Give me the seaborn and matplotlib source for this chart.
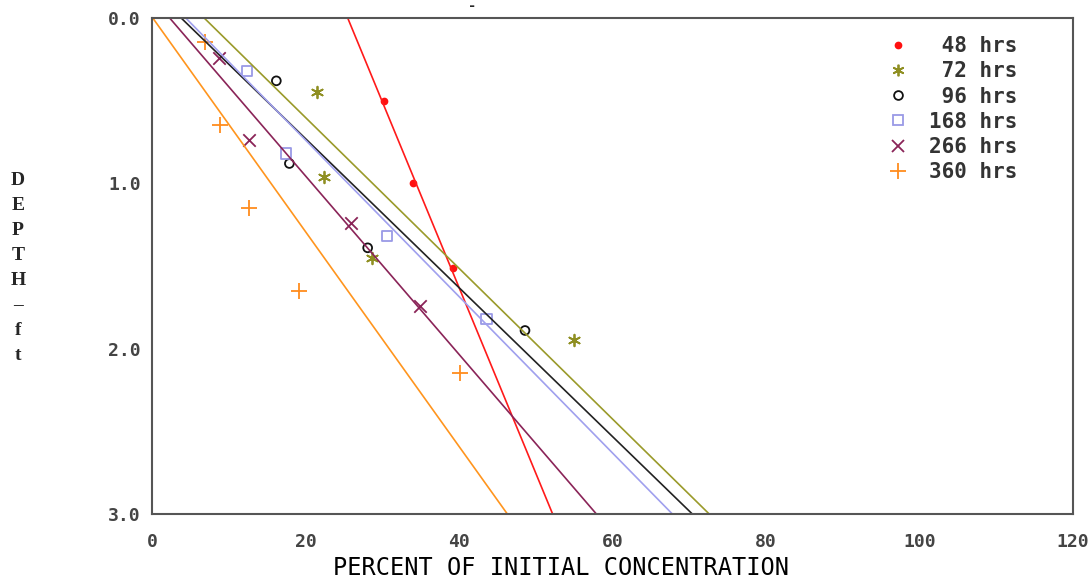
import matplotlib
matplotlib.use("Agg")
import matplotlib.pyplot as plt
import seaborn as sns
import pandas as pd
import numpy as np

# ---- data ----
series = ["48 hrs", "72 hrs", "96 hrs", "168 hrs", "266 hrs", "360 hrs"]

pts_48_x = [30.2, 34.0, 39.2]
pts_48_y = [0.50, 1.00, 1.51]
pts_72_x = [21.5, 22.4, 28.7, 55.0]
pts_72_y = [0.45, 0.96, 1.45, 1.95]
pts_96_x = [16.2, 17.9, 28.1, 48.6]
pts_96_y = [0.38, 0.88, 1.39, 1.89]
pts_168_x = [12.4, 17.5, 30.6, 43.6]
pts_168_y = [0.32, 0.82, 1.32, 1.82]
pts_266_x = [8.7, 12.6, 25.9, 34.9]
pts_266_y = [0.24, 0.74, 1.24, 1.74]
pts_360_x = [6.9, 8.9, 12.6, 19.2, 40.1]
pts_360_y = [0.145, 0.65, 1.15, 1.65, 2.15]

# fitted-line concentration at depth 0 ft and at depth 3 ft
fit_depths = [0.0, 3.0]
fit_top = [25.5, 6.8, 3.8, 4.4, 2.3, 0.1]
fit_bottom = [52.2, 72.6, 70.4, 67.8, 57.9, 46.3]

colors = ["#ff1010", "#8f8f22", "#111111", "#9a9ae6", "#8a2458", "#ff8c1e"]
line_colors = ["#ff1a1a", "#9a9a2a", "#222222", "#a0a0ee", "#8a2458", "#ff951e"]

pts_x = [pts_48_x, pts_72_x, pts_96_x, pts_168_x, pts_266_x, pts_360_x]
pts_y = [pts_48_y, pts_72_y, pts_96_y, pts_168_y, pts_266_y, pts_360_y]

rows = []
for s, xs, ys in zip(series, pts_x, pts_y):
    for x, y in zip(xs, ys):
        rows.append({"series": s, "pct": x, "depth": y})
pts = pd.DataFrame(rows)

lrows = []
for s, a, b in zip(series, fit_top, fit_bottom):
    lrows.append({"series": s, "pct": a, "depth": fit_depths[0]})
    lrows.append({"series": s, "pct": b, "depth": fit_depths[1]})
lines = pd.DataFrame(lrows)

sns.set_style("white")
plt.rcParams["font.family"] = ["DejaVu Sans Mono", "DejaVu Sans"]

fig = plt.figure(figsize=(10.92, 5.82), dpi=100)
ax = fig.add_axes([152 / 1092, 68 / 582, (1073 - 152) / 1092, (514 - 18) / 582])

sns.lineplot(data=lines, x="pct", y="depth", hue="series", hue_order=series,
             palette=dict(zip(series, line_colors)), sort=False, estimator=None,
             linewidth=1.2, legend=False, ax=ax)

markers = {"48 hrs": "o", "72 hrs": (6, 2, 0), "96 hrs": "o",
           "168 hrs": "s", "266 hrs": "x", "360 hrs": "+"}
sizes = {"48 hrs": 18, "72 hrs": 70, "96 hrs": 40, "168 hrs": 55,
         "266 hrs": 80, "360 hrs": 130}
handles = []
for s, c in zip(series, colors):
    d = pts[pts["series"] == s]
    m = markers[s]
    if s in ("96 hrs", "168 hrs"):
        sns.scatterplot(data=d, x="pct", y="depth", marker=m, s=sizes[s],
                        facecolor="none", edgecolor=c, linewidth=1.3, ax=ax, legend=False)
        h = plt.Line2D([], [], linestyle="none", marker=m, markersize=np.sqrt(sizes[s]),
                       markerfacecolor="none", markeredgecolor=c, markeredgewidth=1.3)
    else:
        sns.scatterplot(data=d, x="pct", y="depth", marker=m, s=sizes[s],
                        color=c, edgecolor=c, linewidth=1.3, ax=ax, legend=False)
        h = plt.Line2D([], [], linestyle="none", marker=m, markersize=np.sqrt(sizes[s]),
                       color=c, markeredgecolor=c, markeredgewidth=1.3)
    handles.append(h)

ax.set_xlim(0, 120)
ax.set_ylim(3.0, 0.0)
ax.set_xticks([0, 20, 40, 60, 80, 100, 120])
ax.set_xticks(np.arange(10, 120, 20), minor=True)
ax.set_yticks([0.0, 1.0, 2.0, 3.0])
ax.set_yticks([0.5, 1.5, 2.5], minor=True)
ax.set_yticklabels(["0.0", "1.0", "2.0", "3.0"])
ax.set_xticklabels(["0", "20", "40", "60", "80", "100", "120"])

tick_color = "#555555"
ax.tick_params(axis="both", which="both", direction="in", colors=tick_color,
               labelcolor="#444444", labelsize=13, width=1.3)
ax.tick_params(axis="x", which="major", length=9, pad=14)
ax.tick_params(axis="x", which="minor", length=6)
ax.tick_params(axis="y", which="major", length=9, pad=8)
ax.tick_params(axis="y", which="minor", length=6)
for lab in ax.get_xticklabels() + ax.get_yticklabels():
    lab.set_fontweight("bold")
for sp in ax.spines.values():
    sp.set_visible(True)
    sp.set_color(tick_color)
    sp.set_linewidth(1.5)

ax.set_xlabel("PERCENT OF INITIAL CONCENTRATION", fontsize=17, color="black",
              labelpad=2)
ax.xaxis.set_label_coords((561 - 152) / 921, -0.085)
ax.set_ylabel("")
fig.text(18 / 1092, 1 - 268 / 582, "\n".join(["D", "E", "P", "T", "H", "\u2013", "f", "t"]),
         ha="center", va="center",
         family="Liberation Serif", fontweight="bold", fontsize=14, linespacing=1.61)
fig.text(472 / 1092, 1 - 6 / 582, "-", ha="center", va="center", fontsize=10,
         fontweight="bold")

labels = ["{:>3} hrs".format(s.split()[0]) for s in series]
leg = ax.legend(handles, labels, loc="upper left", bbox_to_anchor=(0.781, 0.997),
                frameon=False, prop={"family": "DejaVu Sans Mono", "weight": "bold", "size": 15},
                labelcolor="#333333", handlelength=1.0, handletextpad=0.95,
                labelspacing=0.25, borderpad=0.3)

fig.savefig("out.png", dpi=100, facecolor="white")
